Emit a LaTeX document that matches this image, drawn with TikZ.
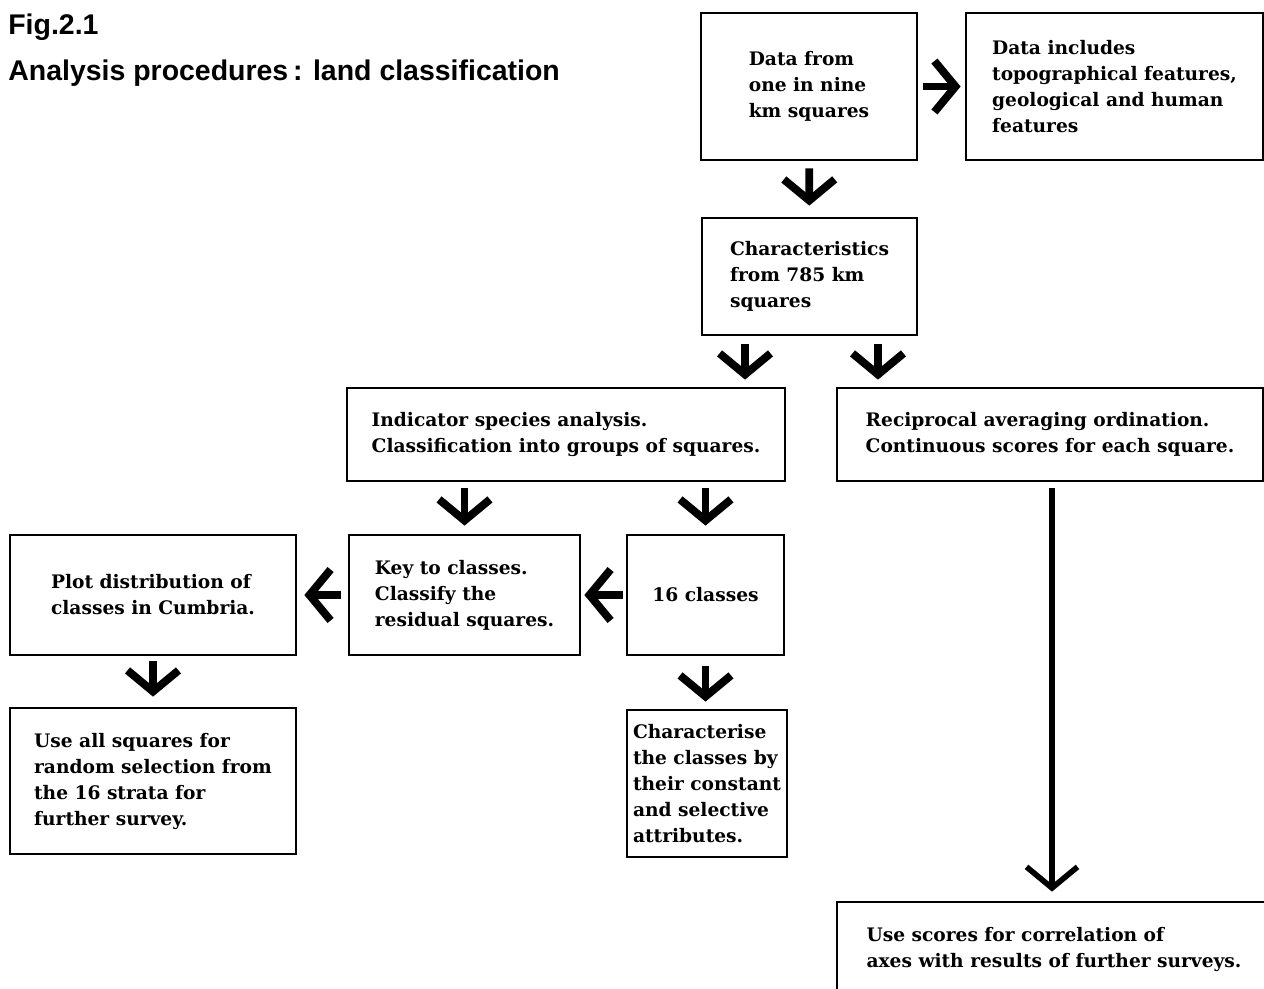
\documentclass[tikz,border=0pt]{standalone}
\usepackage{fontspec}
\setmainfont{DejaVu Serif}
\newfontfamily\headfont{Liberation Sans}
\usetikzlibrary{arrows.meta,calc}

\begin{document}
\begin{tikzpicture}[
    x=0.02cm, y=-0.02cm,
    box/.style={draw, line width=1.6pt, align=left, inner sep=0pt, font=\bfseries\fontsize{10.6}{14.8}\selectfont},
    arr/.style={line width=4.5pt, -{Straight Barb[sharp, length=12pt, width=29pt]}},
    ttl/.style={anchor=base west, inner sep=0pt, font=\headfont\bfseries\fontsize{16.2}{20}\selectfont}
]
\useasboundingbox (0,0) rectangle (1264,988);
\clip (0,0) rectangle (1264,988);

% title
\node[ttl] (fig) at (8,34) {Fig.2.1};
\node[ttl] (title) at (8,80) {Analysis procedures\,: land classification};

% boxes
\node[box, minimum width=4.32cm, minimum height=2.94cm] (data) at (809,86.5) {Data from\\one in nine\\km squares};
\node[box, minimum width=5.94cm, minimum height=2.94cm] (incl) at (1114.5,86.5) {Data includes\\topographical features,\\geological and human\\features};
\node[box, minimum width=4.3cm, minimum height=2.34cm] (chars) at (809.5,276.5) {Characteristics\\from 785 km\\squares};
\node[box, minimum width=8.76cm, minimum height=1.86cm] (ind) at (566,434.5) {Indicator species analysis.\\Classification into groups of squares.};
\node[box, minimum width=8.52cm, minimum height=1.86cm] (recip) at (1050,434.5) {Reciprocal averaging ordination.\\Continuous scores for each square.};
\node[box, minimum width=5.72cm, minimum height=2.4cm] (plot) at (153,595) {Plot distribution of\\classes in Cumbria.};
\node[box, minimum width=4.62cm, minimum height=2.4cm] (key) at (464.5,595) {Key to classes.\\Classify the\\residual squares.};
\node[box, minimum width=3.14cm, minimum height=2.4cm] (cls) at (705.5,595) {16 classes};
\node[box, minimum width=5.72cm, minimum height=2.92cm] (use) at (153,781) {Use all squares for\\random selection from\\the 16 strata for\\further survey.};
\node[box, minimum width=3.2cm, minimum height=2.94cm] (charz) at (707,783.5) {Characterise\\the classes by\\their constant\\and selective\\attributes.};
\node[box, minimum width=8.68cm, minimum height=1.88cm] (scores) at (1054,949) {Use scores for correlation of\\axes with results of further surveys.};

% arrows
\draw[arr, shorten <=0.14cm, shorten >=0.22cm] (data) -- (chars);
\draw[arr, shorten <=0.1cm, shorten >=0.08cm] (data) -- (incl);
\draw[arr, shorten <=0.16cm, shorten >=0.14cm] ([xshift=-1.29cm]chars.south) -- ([xshift=-1.29cm]chars.south |- ind.north);
\draw[arr, shorten <=0.16cm, shorten >=0.14cm] ([xshift=1.37cm]chars.south) -- ([xshift=1.37cm]chars.south |- recip.north);
\draw[arr, shorten <=0.12cm, shorten >=0.16cm] (key.north |- ind.south) -- (key.north);
\draw[arr, shorten <=0.12cm, shorten >=0.16cm] (cls.north |- ind.south) -- (cls.north);
\draw[arr, shorten <=0.06cm, shorten >=0.06cm] (cls) -- (key);
\draw[arr, shorten <=0.14cm, shorten >=0.14cm] (key) -- (plot);
\draw[arr, shorten <=0.1cm, shorten >=0.2cm] (plot) -- (use);
\draw[arr, shorten <=0.2cm, shorten >=0.14cm] (cls.south) -- (cls.south |- charz.north);
\draw[arr, line width=3.2pt, shorten <=0.12cm, shorten >=0.18cm] ([xshift=0.04cm]recip.south) -- ([xshift=0.04cm]recip.south |- scores.north);
\end{tikzpicture}
\end{document}
